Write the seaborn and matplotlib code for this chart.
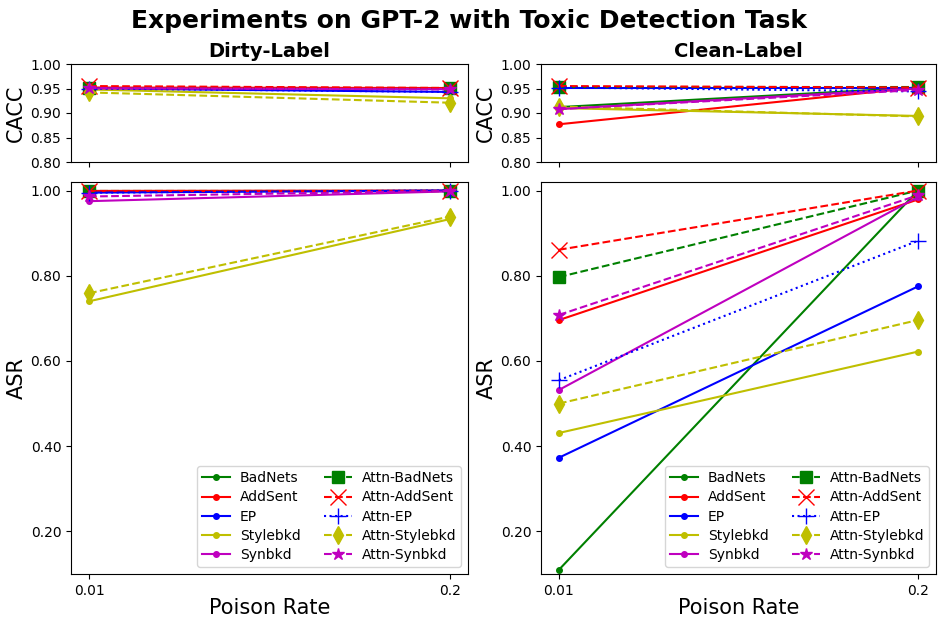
import matplotlib
matplotlib.use("Agg")
import matplotlib.pyplot as plt
import seaborn as sns
import pandas as pd

poison_rates = ["0.01", "0.2"]
methods = ["BadNets", "AddSent", "EP", "Stylebkd", "Synbkd",
           "Attn-BadNets", "Attn-AddSent", "Attn-EP", "Attn-Stylebkd", "Attn-Synbkd"]

# Dirty-Label
dirty_cacc = {
    "BadNets": [0.951, 0.950], "AddSent": [0.952, 0.951], "EP": [0.950, 0.943],
    "Stylebkd": [0.948, 0.930], "Synbkd": [0.950, 0.949],
    "Attn-BadNets": [0.952, 0.952], "Attn-AddSent": [0.955, 0.951], "Attn-EP": [0.950, 0.943],
    "Attn-Stylebkd": [0.942, 0.921], "Attn-Synbkd": [0.951, 0.948],
}
dirty_asr = {
    "BadNets": [1.000, 1.000], "AddSent": [0.999, 1.000], "EP": [0.995, 1.000],
    "Stylebkd": [0.740, 0.933], "Synbkd": [0.975, 0.998],
    "Attn-BadNets": [1.000, 1.000], "Attn-AddSent": [1.000, 1.000], "Attn-EP": [0.995, 1.000],
    "Attn-Stylebkd": [0.759, 0.939], "Attn-Synbkd": [0.986, 0.999],
}
# Clean-Label
clean_cacc = {
    "BadNets": [0.912, 0.952], "AddSent": [0.877, 0.952], "EP": [0.952, 0.952],
    "Stylebkd": [0.910, 0.894], "Synbkd": [0.908, 0.950],
    "Attn-BadNets": [0.953, 0.953], "Attn-AddSent": [0.955, 0.952], "Attn-EP": [0.952, 0.944],
    "Attn-Stylebkd": [0.913, 0.893], "Attn-Synbkd": [0.908, 0.947],
}
clean_asr = {
    "BadNets": [0.110, 1.000], "AddSent": [0.696, 0.979], "EP": [0.373, 0.775],
    "Stylebkd": [0.431, 0.622], "Synbkd": [0.532, 0.985],
    "Attn-BadNets": [0.797, 1.000], "Attn-AddSent": [0.861, 1.000], "Attn-EP": [0.555, 0.882],
    "Attn-Stylebkd": [0.500, 0.696], "Attn-Synbkd": [0.708, 0.989],
}

styles = {
    "BadNets": dict(color="g", marker="o", linestyle="-", markersize=4),
    "AddSent": dict(color="r", marker="o", linestyle="-", markersize=4),
    "EP": dict(color="b", marker="o", linestyle="-", markersize=4),
    "Stylebkd": dict(color="y", marker="o", linestyle="-", markersize=4),
    "Synbkd": dict(color="m", marker="o", linestyle="-", markersize=4),
    "Attn-BadNets": dict(color="g", marker="s", linestyle="--", markersize=8),
    "Attn-AddSent": dict(color="r", marker="x", linestyle="--", markersize=11),
    "Attn-EP": dict(color="b", marker="+", linestyle=":", markersize=11),
    "Attn-Stylebkd": dict(color="y", marker="d", linestyle="--", markersize=9),
    "Attn-Synbkd": dict(color="m", marker="*", linestyle="--", markersize=9),
}

fig = plt.figure(figsize=(9.38, 6.17), dpi=100)
W, H = 938, 617
def ax_at(l, t, r, b):
    return fig.add_axes([l / W, 1 - b / H, (r - l) / W, (b - t) / H])

panels = [
    ("Dirty-Label", dirty_cacc, dirty_asr, 71, 468),
    ("Clean-Label", clean_cacc, clean_asr, 541, 936),
]
xpos = list(range(len(poison_rates)))

for title, cacc, asr, l, r in panels:
    ax1 = ax_at(l, 64, r, 162)
    ax2 = ax_at(l, 182, r, 574)
    for ax, data in ((ax1, cacc), (ax2, asr)):
        for m in methods:
            st = styles[m]
            df = pd.DataFrame({"x": xpos, "y": data[m]})
            sns.lineplot(data=df, x="x", y="y", ax=ax, label=m,
                         color=st["color"], marker=st["marker"], linestyle=st["linestyle"],
                         markersize=st["markersize"], markeredgecolor=st["color"],
                         markeredgewidth=1, linewidth=1.5)
        ax.set_xticks(xpos)
        ax.set_xlim(-0.05, 1.05)
        ax.set_xlabel("")
    ax1.set_ylim(0.80, 1.00)
    ax1.set_yticks([0.80, 0.85, 0.90, 0.95, 1.00])
    ax1.set_yticklabels([f"{v:.2f}" for v in [0.80, 0.85, 0.90, 0.95, 1.00]])
    ax1.set_xticklabels([])
    ax1.set_ylabel("CACC", fontsize=15, labelpad=3)
    ax1.set_title(title, fontsize=14, fontweight="bold", pad=5)
    ax1.get_legend().remove()
    ax2.set_ylim(0.10, 1.02)
    ax2.set_yticks([0.2, 0.4, 0.6, 0.8, 1.0])
    ax2.set_yticklabels([f"{v:.2f}" for v in [0.2, 0.4, 0.6, 0.8, 1.0]])
    ax2.set_xticklabels(poison_rates)
    ax2.set_ylabel("ASR", fontsize=15, labelpad=3)
    ax2.set_xlabel("Poison Rate", fontsize=15, labelpad=0)
    ax2.legend(loc="lower right", ncol=2, fontsize=10, labelspacing=0.38,
               handletextpad=0.7, columnspacing=1.7, borderpad=0.35)

fig.suptitle("Experiments on GPT-2 with Toxic Detection Task", fontsize=18,
             fontweight="bold", y=0.985)
fig.savefig("out.png", dpi=100)
